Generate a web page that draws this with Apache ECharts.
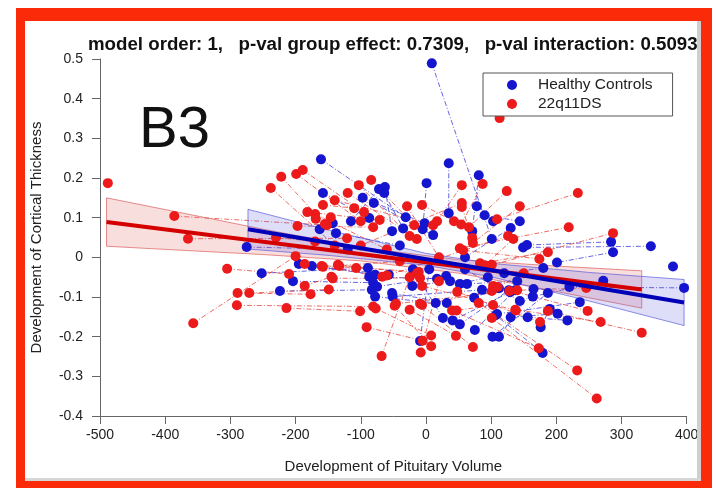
<!DOCTYPE html>
<html>
<head>
<meta charset="utf-8">
<script src="https://cdn.jsdelivr.net/npm/echarts@6/dist/echarts.min.js"></script>
<style>
  html, body { margin: 0; padding: 0; background: #fff; }
  #chart { width: 725px; height: 488px; }
</style>
</head>
<body>
<div id="chart"></div>
<script>
// Axis ranges
const xRange = [-500, 400, 100];
const yRange = [-0.4, 0.5, 0.1];

// 22q11DS: each entry links two observations [x1, y1, x2, y2]
const patientLinks = [
  [-386, 0.104, -152, 0.081],
  [-365, 0.047, -121, 0.048],
  [-357, -0.166, -200, 0.003],
  [-305, -0.029, -210, -0.042],
  [-289, -0.090, -177, -0.093],
  [-271, -0.090, -149, -0.081],
  [-290, -0.121, -81, -0.124],
  [-214, -0.128, -101, -0.136],
  [-238, 0.175, -140, 0.030],
  [-222, 0.203, -155, 0.084],
  [-199, 0.210, -100, 0.091],
  [-189, 0.220, -95, 0.114],
  [-182, 0.114, -71, 0.094],
  [-197, 0.079, -81, 0.076],
  [-158, 0.132, -110, 0.124],
  [-170, 0.109, -60, 0.020],
  [-169, 0.097, -146, 0.101],
  [-186, -0.017, -107, -0.027],
  [-160, -0.022, -67, -0.049],
  [-186, -0.072, -145, -0.049],
  [-158, -0.024, -40, -0.010],
  [-135, -0.019, -14, -0.040],
  [-133, -0.022, -11, -0.037],
  [-143, -0.053, -9, -0.052],
  [-84, 0.195, -18, 0.081],
  [-103, 0.182, -25, 0.054],
  [-120, 0.162, -14, 0.046],
  [-140, 0.144, 11, 0.081],
  [55, 0.182, 17, 0.091],
  [87, 0.185, 54, 0.083],
  [-29, 0.129, 20, 0.000],
  [-6, 0.132, 43, 0.091],
  [55, 0.137, -100, 0.030],
  [55, 0.127, 71, 0.049],
  [124, 0.167, 66, 0.076],
  [144, 0.129, 72, 0.036],
  [233, 0.162, 109, 0.096],
  [219, 0.076, 52, 0.023],
  [287, 0.061, 101, -0.019],
  [187, 0.013, 83, -0.015],
  [174, -0.004, 57, 0.018],
  [126, 0.054, -60, -0.046],
  [134, 0.046, 90, -0.020],
  [246, -0.077, 140, -0.083],
  [248, -0.135, 103, -0.072],
  [268, -0.163, 137, -0.132],
  [331, -0.190, 187, -0.135],
  [232, -0.285, 81, -0.115],
  [262, -0.356, 101, -0.153],
  [175, -0.163, 48, -0.087],
  [173, -0.229, 40, -0.134],
  [138, -0.134, -6, -0.072],
  [128, -0.085, -46, -0.117],
  [101, -0.085, -6, -0.120],
  [110, -0.075, 150, -0.040],
  [103, -0.120, 47, -0.134],
  [72, -0.226, -9, -0.117],
  [46, -0.198, -25, -0.132],
  [8, -0.224, -48, -0.122],
  [8, -0.197, -77, -0.129],
  [-91, -0.176, -5, -0.210],
  [-8, -0.240, 20, -0.060],
  [-68, -0.249, -25, -0.050],
  [-230, 0.050, -170, 0.040]
];
const patientSingles = [[-488, 0.187], [113, 0.351]];

// Healthy Controls
const controlLinks = [
  [9, 0.489, 101, 0.046],
  [-161, 0.247, -31, 0.101],
  [35, 0.237, 35, 0.111],
  [81, 0.207, 71, 0.066],
  [1, 0.187, -5, 0.071],
  [-63, 0.177, -52, 0.066],
  [-72, 0.172, -115, 0.091],
  [-64, 0.162, -35, 0.073],
  [-158, 0.162, -87, 0.099],
  [-97, 0.150, -2, 0.086],
  [-80, 0.137, 11, 0.056],
  [78, 0.129, 103, 0.091],
  [90, 0.106, 144, 0.091],
  [-138, 0.061, -40, 0.030],
  [-143, 0.086, -163, 0.071],
  [130, 0.074, 60, 0.000],
  [-275, 0.026, -120, 0.020],
  [345, 0.028, 149, 0.025],
  [284, 0.039, 155, 0.031],
  [287, 0.013, 201, -0.013],
  [180, -0.027, 120, -0.040],
  [396, -0.077, 220, -0.075],
  [272, -0.059, 164, -0.099],
  [-252, -0.040, -89, -0.027],
  [-224, -0.085, -83, -0.082],
  [-204, -0.060, -81, -0.064],
  [-195, -0.017, -78, -0.044],
  [-175, -0.022, -57, -0.044],
  [-87, -0.049, 17, -0.054],
  [-75, -0.074, 31, -0.047],
  [37, -0.060, -21, -0.072],
  [52, -0.067, 95, -0.050],
  [63, -0.067, 140, -0.060],
  [86, -0.082, -51, -0.099],
  [-78, -0.099, 15, -0.115],
  [32, -0.115, -52, -0.090],
  [74, -0.102, 112, -0.078],
  [26, -0.153, -20, -0.030],
  [41, -0.159, 129, -0.088],
  [52, -0.169, 127, -0.083],
  [75, -0.183, 137, -0.083],
  [102, -0.200, 187, -0.090],
  [112, -0.200, 165, -0.080],
  [-9, -0.211, 5, -0.030],
  [109, -0.143, 236, -0.113],
  [130, -0.151, 202, -0.142],
  [156, -0.151, 217, -0.159],
  [176, -0.176, 190, -0.130],
  [179, -0.241, 107, -0.146],
  [144, -0.110, 60, -0.030]
];
const controlSingles = [[379, -0.023]];

// Linear fits (end points) and their confidence bands
const patientFitX = [-490, 331];
const patientFitY = [0.089, -0.081];
const patientBandX = [-490, -423, -250, -100, 50, 200, 331];
const patientBandHi = [0.150, 0.128, 0.071, 0.025, -0.006, -0.022, -0.034];
const patientBandLo = [0.028, 0.022, 0.007, -0.009, -0.040, -0.086, -0.128];

const controlFitX = [-273, 396];
const controlFitY = [0.071, -0.114];
const controlBandX = [-273, -150, 0, 100, 250, 396];
const controlBandHi = [0.121, 0.069, 0.010, -0.015, -0.038, -0.056];
const controlBandLo = [0.021, 0.005, -0.020, -0.049, -0.110, -0.172];

const RED = '#ec1a1a';
const BLUE = '#1515cf';
const FONT = '"Liberation Sans", Arial, Helvetica, sans-serif';

function pointsOf(links, singles) {
  const pts = [];
  links.forEach(l => { pts.push([l[0], l[1]]); pts.push([l[2], l[3]]); });
  singles.forEach(s => pts.push([s[0], s[1]]));
  return pts;
}

function linkRenderer(color) {
  return function (params, api) {
    const a = api.coord([api.value(0), api.value(1)]);
    const b = api.coord([api.value(2), api.value(3)]);
    return {
      type: 'line',
      shape: { x1: a[0], y1: a[1], x2: b[0], y2: b[1] },
      style: { stroke: color, lineWidth: 1, lineDash: [5, 2, 1, 2] }
    };
  };
}

function bandRenderer(xs, hi, lo, fill, stroke) {
  return function (params, api) {
    const pts = [];
    for (let i = 0; i < xs.length; i++) pts.push(api.coord([xs[i], hi[i]]));
    for (let i = xs.length - 1; i >= 0; i--) pts.push(api.coord([xs[i], lo[i]]));
    return {
      type: 'polygon',
      shape: { points: pts },
      style: { fill: fill, stroke: stroke, lineWidth: 1 }
    };
  };
}

const chart = echarts.init(document.getElementById('chart'), null, { renderer: 'canvas' });

const frameColor = '#fb2b0a';
chart.setOption({
  backgroundColor: '#ffffff',
  animation: false,
  textStyle: { fontFamily: FONT },
  title: {
    text: 'model order: 1,   p-val group effect: 0.7309,   p-val interaction: 0.5093',
    left: 88, top: 35, padding: 0,
    textStyle: { fontSize: 18.7, fontWeight: 'bold', color: '#111', fontFamily: FONT }
  },
  legend: {
    data: ['Healthy Controls', '22q11DS'],
    orient: 'vertical',
    left: 483, top: 73,
    padding: [4, 20, 4, 24],
    itemGap: 3,
    itemWidth: 10, itemHeight: 10,
    backgroundColor: '#fff',
    borderColor: '#555', borderWidth: 1,
    textStyle: { fontSize: 15.5, color: '#222', fontFamily: FONT, padding: [0, 0, 0, 16] }
  },
  grid: { left: 100, right: 38.3, top: 59, bottom: 72 },
  xAxis: {
    type: 'value', min: xRange[0], max: xRange[1], interval: xRange[2],
    name: 'Development of Pituitary Volume', nameLocation: 'middle', nameGap: 43,
    nameTextStyle: { fontSize: 15, color: '#222' },
    axisLine: { onZero: false, lineStyle: { color: '#666', width: 1 } },
    axisTick: { length: 8, lineStyle: { color: '#666' } },
    axisLabel: { fontSize: 14, color: '#222', margin: 12 },
    splitLine: { show: false }
  },
  yAxis: {
    type: 'value', min: yRange[0], max: yRange[1], interval: yRange[2],
    name: 'Development of Cortical Thickness', nameLocation: 'middle', nameGap: 56,
    nameTextStyle: { fontSize: 15, color: '#222' },
    axisLine: { show: true, onZero: false, lineStyle: { color: '#666', width: 1 } },
    axisTick: { show: true, length: 8, lineStyle: { color: '#666' } },
    axisLabel: { fontSize: 14, color: '#222', margin: 17,
      formatter: v => (Math.abs(v) < 1e-9 ? '0' : (Math.round(v * 10) / 10).toString()) },
    splitLine: { show: false }
  },
  graphic: [
    { type: 'rect', shape: { x: 16, y: 8, width: 696, height: 13 }, style: { fill: frameColor }, z: 100 },
    { type: 'rect', shape: { x: 16, y: 8, width: 9, height: 480 }, style: { fill: frameColor }, z: 100 },
    { type: 'rect', shape: { x: 701, y: 8, width: 11, height: 480 }, style: { fill: frameColor }, z: 100 },
    { type: 'rect', shape: { x: 16, y: 481, width: 696, height: 7 }, style: { fill: frameColor }, z: 100 },
    { type: 'rect', shape: { x: 697, y: 21, width: 4, height: 460 }, style: { fill: '#cfcfcf' }, z: 99 },
    { type: 'rect', shape: { x: 25, y: 478, width: 676, height: 3 }, style: { fill: '#d6d6d6' }, z: 99 },
    { type: 'text', left: 139, top: 102, z: 50,
      style: { text: 'B3', font: '58px ' + FONT, fill: '#111' } }
  ],
  series: [
    { type: 'custom', name: 'hc-links', z: 1, silent: true,
      renderItem: linkRenderer('rgba(50,50,215,0.75)'),
      encode: { x: [0, 2], y: [1, 3] }, data: controlLinks },
    { type: 'custom', name: 'pt-links', z: 1, silent: true,
      renderItem: linkRenderer('rgba(230,60,50,0.75)'),
      encode: { x: [0, 2], y: [1, 3] }, data: patientLinks },
    { type: 'custom', name: 'pt-band', z: 2, silent: true,
      renderItem: bandRenderer(patientBandX, patientBandHi, patientBandLo, 'rgba(225,90,90,0.2)', 'rgba(215,70,70,0.6)'),
      encode: { x: 0, y: 1 }, data: [[patientBandX[0], patientBandHi[0]]] },
    { type: 'custom', name: 'hc-band', z: 2, silent: true,
      renderItem: bandRenderer(controlBandX, controlBandHi, controlBandLo, 'rgba(90,90,225,0.2)', 'rgba(70,70,215,0.6)'),
      encode: { x: 0, y: 1 }, data: [[controlBandX[0], controlBandHi[0]]] },
    { type: 'scatter', name: 'Healthy Controls', z: 3, symbol: 'circle', symbolSize: 10,
      itemStyle: { color: BLUE, opacity: 1 }, data: pointsOf(controlLinks, controlSingles) },
    { type: 'scatter', name: '22q11DS', z: 3, symbol: 'circle', symbolSize: 10,
      itemStyle: { color: RED, opacity: 1 }, data: pointsOf(patientLinks, patientSingles) },
    { type: 'line', name: 'pt-fit', z: 4, symbol: 'none', silent: true,
      lineStyle: { color: '#d40000', width: 4 },
      data: patientFitX.map((x, i) => [x, patientFitY[i]]) },
    { type: 'line', name: 'hc-fit', z: 4, symbol: 'none', silent: true,
      lineStyle: { color: '#0000b8', width: 4 },
      data: controlFitX.map((x, i) => [x, controlFitY[i]]) }
  ]
});
</script>
</body>
</html>
